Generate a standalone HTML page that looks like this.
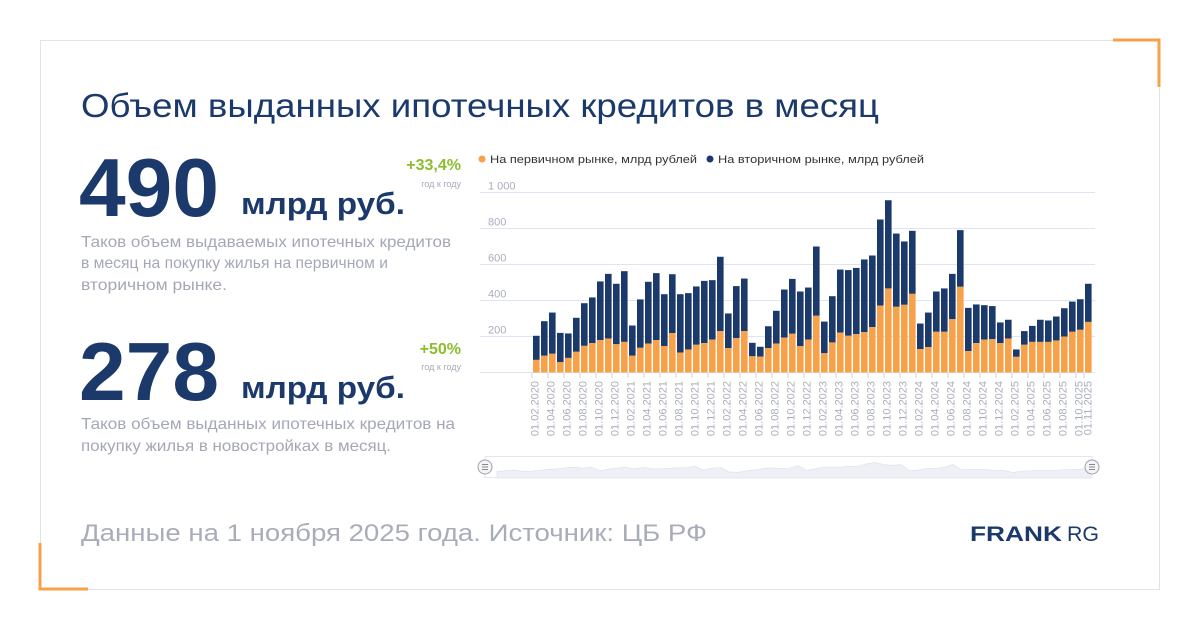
<!DOCTYPE html>
<html><head><meta charset="utf-8"><style>
html,body{margin:0;padding:0;background:#fff;width:1200px;height:630px;overflow:hidden}
svg{display:block;font-family:"Liberation Sans",sans-serif}
</style></head><body>
<svg id="s" width="1200" height="630" viewBox="0 0 1200 630" xmlns="http://www.w3.org/2000/svg">
<rect x="40.5" y="40.5" width="1119" height="549" fill="#fff" stroke="#e2e3e8" stroke-width="1"/>
<path d="M1113 40 H1159 V87" fill="none" stroke="#f7a14a" stroke-width="3"/>
<path d="M40 543 V589 H88" fill="none" stroke="#f7a14a" stroke-width="3"/>
<text x="81" y="117" font-size="33" fill="#1b3a6b" textLength="798" lengthAdjust="spacingAndGlyphs">Объем выданных ипотечных кредитов в месяц</text>
<text x="79" y="216" font-size="83" font-weight="bold" fill="#1b3a6b" textLength="140" lengthAdjust="spacingAndGlyphs">490</text>
<text x="241" y="214" font-size="31" font-weight="bold" fill="#1b3a6b" textLength="164" lengthAdjust="spacingAndGlyphs">млрд руб.</text>
<text x="461" y="170" font-size="16" font-weight="bold" fill="#8cbd2c" text-anchor="end">+33,4%</text>
<text x="461" y="187" font-size="9" fill="#a7abb8" text-anchor="end">год к году</text>
<g font-size="16" fill="#a4a8b6">
<text x="81" y="247" textLength="370" lengthAdjust="spacingAndGlyphs">Таков объем выдаваемых ипотечных кредитов</text>
<text x="81" y="268" textLength="307" lengthAdjust="spacingAndGlyphs">в месяц на покупку жилья на первичном и</text>
<text x="81" y="290" textLength="146" lengthAdjust="spacingAndGlyphs">вторичном рынке.</text>
<text x="81" y="429" textLength="374" lengthAdjust="spacingAndGlyphs">Таков объем выданных ипотечных кредитов на</text>
<text x="81" y="451" textLength="310" lengthAdjust="spacingAndGlyphs">покупку жилья в новостройках в месяц.</text>
</g>
<text x="79" y="400" font-size="83" font-weight="bold" fill="#1b3a6b" textLength="140" lengthAdjust="spacingAndGlyphs">278</text>
<text x="241" y="398" font-size="31" font-weight="bold" fill="#1b3a6b" textLength="164" lengthAdjust="spacingAndGlyphs">млрд руб.</text>
<text x="461" y="354" font-size="16" font-weight="bold" fill="#8cbd2c" text-anchor="end">+50%</text>
<text x="461" y="370" font-size="9" fill="#a7abb8" text-anchor="end">год к году</text>
<text x="81" y="541" font-size="24" fill="#a9adb9" textLength="626" lengthAdjust="spacingAndGlyphs">Данные на 1 ноября 2025 года. Источник: ЦБ РФ</text>
<text x="970" y="541" font-size="21" font-weight="bold" fill="#1b3a6b" textLength="92" lengthAdjust="spacingAndGlyphs">FRANK</text>
<text x="1067" y="541" font-size="21" fill="#1b3a6b" textLength="32" lengthAdjust="spacingAndGlyphs">RG</text>
<circle cx="482" cy="159" r="3.5" fill="#f7a14a"/>
<text x="490" y="163" font-size="11" fill="#333" textLength="207" lengthAdjust="spacingAndGlyphs">На первичном рынке, млрд рублей</text>
<circle cx="710" cy="159" r="3.5" fill="#1b3a6b"/>
<text x="718" y="163" font-size="11" fill="#333" textLength="206" lengthAdjust="spacingAndGlyphs">На вторичном рынке, млрд рублей</text>
<g id="chart"></g>
</svg>
<script>
var T=[204,285,333,220,217,304,385,417,506,548,493,563,261,406,504,552,435,546,435,441,478,509,513,643,328,480,522,165,143,257,343,461,520,450,472,700,283,424,572,569,581,628,650,850,957,772,728,787,272,333,450,467,548,791,359,378,374,369,278,293,128,230,259,293,289,311,357,394,407,493];
var O=[70,93,104,57,81,115,148,163,180,189,157,170,93,137,161,180,146,219,111,128,154,163,183,230,135,191,230,90,88,135,161,194,215,146,183,315,107,167,222,204,213,224,252,372,467,365,376,437,130,141,226,226,296,476,119,163,183,185,163,189,87,154,170,170,170,178,200,226,237,281];
var y0=372.5,k=0.18,h='';
var labs=['1 000','800','600','400','200'];
for(var i=0;i<=5;i++){var y=y0-i*200*k;h+='<line x1="480" x2="1095" y1="'+y+'" y2="'+y+'" stroke="#dfe3f3" stroke-width="1"/>';
if(i>0)h+='<text x="488" y="'+(y-3)+'" font-size="11" fill="#a9adbb">'+labs[5-i]+'</text>';}
var mon=['01','02','03','04','05','06','07','08','09','10','11','12'];
var pts=[];
for(var i=0;i<70;i++){var x=533+i*8;
var yt=y0-T[i]*k,yo=y0-O[i]*k;
h+='<rect x="'+x+'" y="'+yt+'" width="6.6" height="'+(yo-yt)+'" fill="#1b3a6b"/>';
h+='<rect x="'+x+'" y="'+yo+'" width="6.6" height="'+(y0-yo)+'" fill="#f7a14a"/>';
var m=(1+i)%12,yr=2020+Math.floor((1+i)/12);
if(i%2==0||i==69){var lx=x+(i==69?6.5:5.5);
h+='<text transform="translate('+lx+',381) rotate(-90)" text-anchor="end" font-size="11" fill="#a9adbb">01.'+mon[m]+'.'+yr+'</text>';
h+='<line x1="'+(x-1)+'" x2="'+(x-1)+'" y1="373" y2="378" stroke="#ccd3e8"/>';}
pts.push((497+i*8.6).toFixed(1)+','+(474-T[i]*0.012).toFixed(1));}
h+='<rect x="485" y="456.5" width="607" height="21" fill="none" stroke="#e4e6ee"/>';
h+='<polygon points="497,478 '+pts.join(' ')+' 1090,478" fill="#eef0f5" stroke="#dfe2ea" stroke-width="0.7"/>';
[485,1092].forEach(function(cx){h+='<circle cx="'+cx+'" cy="467" r="7" fill="#f4f4f6" stroke="#9aa0ad"/><path d="M'+(cx-3)+' 464.5h6M'+(cx-3)+' 467h6M'+(cx-3)+' 469.5h6" stroke="#666" stroke-width="0.8"/>';});
document.getElementById('chart').innerHTML=h;
</script>
</body></html>
